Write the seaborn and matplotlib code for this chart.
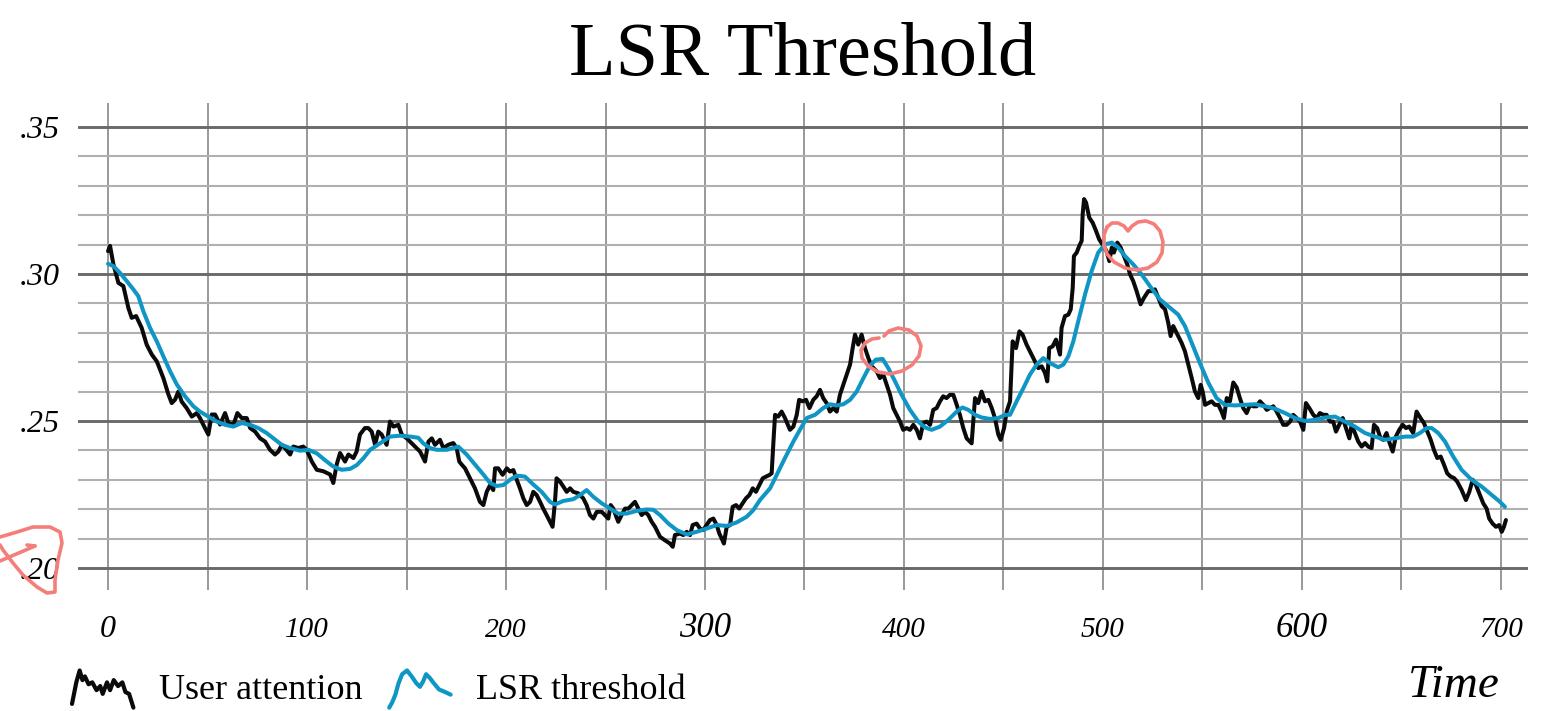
import numpy as np
import pandas as pd
import matplotlib
matplotlib.use("Agg")
import matplotlib.pyplot as plt
import seaborn as sns
from matplotlib.lines import Line2D
from matplotlib.legend_handler import HandlerBase

# ---------------------------------------------------------------- data
attention_t = [0, 1.0, 2.7, 5.2, 7.7, 10.2, 11.9, 14.1, 16.9, 19.4, 22.0, 24.5, 27.8, 30.3, 32.0,
               33.7, 35.3, 37.0, 39.5, 42.1, 44.6, 46.2, 48.7, 50.4, 52.1, 53.8, 56.3, 58.8, 60.5,
               63.0, 65.0, 67.2, 69.7, 71.4, 73.9, 76.4, 78.9, 81.4, 83.9, 85.6, 87.3, 88.9, 91.5,
               93.1, 95.6, 98.1, 99.8, 102.4, 104.9, 108.2, 111.6, 113.2, 114.9, 116.6, 119.1,
               120.8, 123.3, 124.9, 126.6, 129.1, 130.8, 132.5, 134.2, 135.8, 137.5, 140.0, 141.7,
               143.4, 145.9, 147.6, 150.1, 153.4, 156.8, 159.3, 161.0, 162.7, 164.3, 166.8, 168.5,
               171.0, 173.5, 175.2, 176.5, 177.7, 179.4, 181.9, 184.4, 186.9, 188.6, 190.3, 192.0,
               193.6, 194.5, 196.1, 198.3, 200.4, 202.0, 203.7, 205.4, 207.0, 208.7, 210.4, 212.1,
               213.7, 215.4, 217.1, 218.7, 220.4, 222.1, 223.4, 224.6, 225.4, 227.1, 228.8, 230.5,
               232.2, 233.8, 236.3, 238.8, 240.5, 242.2, 243.9, 245.6, 248.1, 249.7, 251.4, 252.6,
               253.9, 256.4, 258.1, 259.8, 261.5, 263.2, 264.8, 266.5, 268.2, 269.8, 271.5, 273.2,
               274.9, 277.4, 279.9, 282.4, 283.8, 284.9, 287.4, 289.1, 290.8, 292.5, 293.8, 295.8,
               297.5, 299.1, 300.8, 302.5, 304.2, 305.9, 307.2, 308.4, 309.5, 310.9, 312.6, 313.9,
               315.6, 317.2, 318.9, 320.6, 322.3, 324.0, 325.6, 327.3, 329.0, 330.7, 332.3, 333.5,
               334.3, 335.2, 336.8, 338.5, 340.2, 342.7, 344.4, 346.1, 347.3, 349.1, 350.8, 352.5,
               354.4, 356.1, 357.8, 359.4, 361.1, 362.8, 364.5, 366.2, 367.8, 369.5, 371.2, 372.9,
               374.2, 375.4, 377.0, 378.7, 380.4, 382.1, 383.8, 386.3, 387.9, 389.6, 391.3, 393.0,
               394.6, 396.3, 398.0, 399.6, 401.3, 403.0, 404.7, 406.4, 408.0, 409.7, 411.4, 413.1,
               414.7, 416.4, 418.1, 419.7, 421.4, 423.1, 424.8, 426.5, 428.1, 429.8, 431.5, 434.0,
               434.8, 435.7, 437.3, 439.0, 440.7, 442.4, 444.1, 445.7, 447.4, 448.6, 450.3, 451.6,
               453.3, 454.6, 456.3, 458.0, 459.6, 461.6, 463.3, 465.8, 467.5, 469.2, 470.9, 472.0,
               473.0, 474.7, 476.4, 477.5, 478.4, 479.2, 480.9, 482.6, 483.8, 484.8, 485.4, 486.8,
               488.1, 489.3, 489.8, 490.5, 491.5, 493.1, 494.8, 496.5, 498.1, 500.2, 501.8, 503.2,
               504.4, 505.5, 507.2, 508.9, 510.6, 512.2, 513.6, 515.2, 516.9, 518.9, 520.6, 522.8,
               525.3, 526.1, 527.8, 529.5, 531.2, 532.8, 534.0, 535.3, 537.0, 539.5, 541.2, 542.9,
               544.6, 546.2, 547.9, 549.1, 550.1, 551.3, 552.9, 554.6, 556.3, 558.0, 559.6, 560.8,
               562.2, 563.8, 565.5, 567.2, 568.8, 570.5, 572.2, 573.9, 575.5, 577.2, 578.9, 580.6,
               582.3, 583.9, 585.6, 587.3, 589.0, 590.6, 592.3, 594.0, 595.6, 597.3, 599.0, 600.7,
               602.0, 603.7, 605.7, 607.4, 609.0, 610.7, 612.4, 614.1, 615.7, 617.1, 618.7, 620.5,
               622.1, 623.8, 625.0, 626.6, 628.3, 630.0, 631.7, 633.3, 635.0, 636.2, 637.8, 639.5,
               640.8, 642.5, 643.8, 645.6, 647.2, 648.9, 650.6, 652.3, 653.9, 655.9, 657.6, 659.6,
               661.3, 663.0, 664.7, 666.3, 668.0, 669.7, 671.4, 673.0, 674.7, 676.4, 678.0, 680.2,
               682.4, 684.1, 685.8, 687.4, 689.4, 691.1, 692.8, 694.1, 695.8, 697.5, 699.1, 700.4,
               701.5, 702.5]
attention_v = [0.3078, 0.3096, 0.3033, 0.2970, 0.2959, 0.2885, 0.2851, 0.2857, 0.2817, 0.2760,
               0.2726, 0.2703, 0.2646, 0.2591, 0.2561, 0.2573, 0.2600, 0.2566, 0.2544, 0.2515,
               0.2527, 0.2510, 0.2476, 0.2454, 0.2522, 0.2522, 0.2488, 0.2527, 0.2493, 0.2487,
               0.2527, 0.2510, 0.2510, 0.2476, 0.2464, 0.2441, 0.2430, 0.2402, 0.2386, 0.2396,
               0.2419, 0.2408, 0.2386, 0.2413, 0.2408, 0.2413, 0.2402, 0.2362, 0.2334, 0.2329,
               0.2318, 0.2289, 0.2352, 0.2391, 0.2362, 0.2386, 0.2374, 0.2396, 0.2454, 0.2476,
               0.2476, 0.2464, 0.2419, 0.2464, 0.2454, 0.2419, 0.2498, 0.2481, 0.2487, 0.2454,
               0.2441, 0.2419, 0.2396, 0.2362, 0.2430, 0.2441, 0.2419, 0.2436, 0.2408, 0.2419,
               0.2425, 0.2408, 0.2362, 0.2352, 0.2339, 0.2305, 0.2271, 0.2225, 0.2214, 0.2259,
               0.2282, 0.2265, 0.2339, 0.2339, 0.2317, 0.2339, 0.2328, 0.2333, 0.2300, 0.2271,
               0.2237, 0.2214, 0.2225, 0.2259, 0.2248, 0.2225, 0.2202, 0.2180, 0.2157, 0.2140,
               0.2225, 0.2305, 0.2294, 0.2277, 0.2259, 0.2271, 0.2259, 0.2254, 0.2237, 0.2214,
               0.2180, 0.2168, 0.2191, 0.2191, 0.2180, 0.2168, 0.2214, 0.2202, 0.2157, 0.2180,
               0.2202, 0.2202, 0.2214, 0.2225, 0.2202, 0.2180, 0.2191, 0.2180, 0.2157, 0.2140,
               0.2106, 0.2094, 0.2083, 0.2072, 0.2112, 0.2117, 0.2112, 0.2123, 0.2112, 0.2146,
               0.2151, 0.2134, 0.2129, 0.2146, 0.2163, 0.2168, 0.2146, 0.2117, 0.2100, 0.2083,
               0.2140, 0.2146, 0.2208, 0.2214, 0.2202, 0.2220, 0.2237, 0.2248, 0.2271, 0.2259,
               0.2282, 0.2305, 0.2311, 0.2316, 0.2322, 0.2419, 0.2521, 0.2515, 0.2532, 0.2510,
               0.2470, 0.2481, 0.2521, 0.2572, 0.2567, 0.2572, 0.2544, 0.2572, 0.2584, 0.2606,
               0.2578, 0.2561, 0.2532, 0.2544, 0.2532, 0.2589, 0.2623, 0.2658, 0.2692, 0.2748,
               0.2794, 0.2760, 0.2794, 0.2748, 0.2714, 0.2686, 0.2669, 0.2646, 0.2658, 0.2623,
               0.2589, 0.2544, 0.2521, 0.2498, 0.2470, 0.2476, 0.2470, 0.2487, 0.2470, 0.2441,
               0.2493, 0.2498, 0.2487, 0.2538, 0.2544, 0.2567, 0.2584, 0.2578, 0.2589, 0.2589,
               0.2555, 0.2521, 0.2476, 0.2441, 0.2424, 0.2498, 0.2578, 0.2561, 0.2600, 0.2567,
               0.2572, 0.2544, 0.2510, 0.2454, 0.2436, 0.2476, 0.2532, 0.2567, 0.2771, 0.2748,
               0.2805, 0.2794, 0.2760, 0.2737, 0.2703, 0.2680, 0.2686, 0.2663, 0.2635, 0.2748,
               0.2754, 0.2777, 0.2748, 0.2726, 0.2817, 0.2857, 0.2862, 0.2880, 0.2953, 0.3061,
               0.3073, 0.3096, 0.3113, 0.3204, 0.3255, 0.3243, 0.3192, 0.3175, 0.3147, 0.3118,
               0.3096, 0.3078, 0.3044, 0.3090, 0.3073, 0.3107, 0.3090, 0.3061, 0.3033, 0.2999,
               0.2976, 0.2942, 0.2897, 0.2919, 0.2942, 0.2942, 0.2948, 0.2919, 0.2891, 0.2880,
               0.2834, 0.2789, 0.2823, 0.2800, 0.2766, 0.2737, 0.2692, 0.2646, 0.2601, 0.2578,
               0.2623, 0.2600, 0.2555, 0.2561, 0.2567, 0.2555, 0.2555, 0.2532, 0.2510, 0.2578,
               0.2567, 0.2631, 0.2614, 0.2578, 0.2544, 0.2527, 0.2555, 0.2550, 0.2550, 0.2567,
               0.2555, 0.2538, 0.2544, 0.2550, 0.2532, 0.2510, 0.2487, 0.2487, 0.2498, 0.2521,
               0.2510, 0.2498, 0.2470, 0.2561, 0.2544, 0.2521, 0.2510, 0.2527, 0.2521, 0.2521,
               0.2498, 0.2498, 0.2464, 0.2487, 0.2510, 0.2476, 0.2441, 0.2487, 0.2459, 0.2430,
               0.2413, 0.2425, 0.2413, 0.2408, 0.2487, 0.2476, 0.2441, 0.2436, 0.2459, 0.2430,
               0.2396, 0.2447, 0.2470, 0.2487, 0.2476, 0.2481, 0.2459, 0.2532, 0.2510, 0.2493,
               0.2464, 0.2436, 0.2402, 0.2374, 0.2379, 0.2351, 0.2322, 0.2311, 0.2306, 0.2294,
               0.2266, 0.2231, 0.2259, 0.2300, 0.2283, 0.2249, 0.2220, 0.2202, 0.2168, 0.2151,
               0.2140, 0.2146, 0.2123, 0.2140, 0.2163]

threshold_t = [0, 2.7, 6.0, 9.4, 12.7, 15.2, 17.7, 21.1, 24.5, 27.8, 31.2, 34.5, 38.7, 42.9, 46.2,
               50.4, 54.6, 58.8, 63.0, 67.2, 71.4, 75.5, 79.7, 83.1, 87.3, 91.5, 96.5, 100.7, 104.9,
               109.0, 113.2, 117.4, 121.6, 125.0, 128.3, 131.7, 136.7, 141.7, 146.7, 151.8, 155.9,
               158.4, 161.8, 165.2, 170.2, 173.5, 176.0, 180.2, 184.4, 188.6, 192.0, 195.3, 198.6,
               202.0, 205.4, 209.5, 213.7, 217.9, 222.1, 224.6, 228.8, 233.8, 237.2, 240.5, 243.9,
               248.1, 252.3, 256.4, 260.6, 265.6, 270.7, 274.0, 277.4, 281.6, 285.8, 290.8, 295.8,
               300.8, 305.9, 310.9, 315.9, 320.9, 324.3, 327.6, 332.7, 335.2, 339.3, 344.4, 347.7,
               351.1, 355.3, 359.4, 362.8, 366.2, 369.5, 372.9, 376.2, 379.6, 382.9, 385.9, 389.3,
               392.1, 395.5, 398.8, 403.0, 407.2, 410.6, 413.9, 418.1, 422.3, 426.5, 429.4, 432.3,
               435.7, 439.0, 443.2, 447.4, 450.8, 453.3, 456.6, 460.0, 463.3, 466.7, 470.0, 473.4,
               477.5, 480.1, 482.6, 485.1, 487.6, 491.0, 494.3, 497.6, 501.0, 504.4, 507.7, 511.1,
               515.2, 519.4, 523.6, 528.6, 533.7, 537.8, 541.2, 544.6, 548.7, 552.9, 557.1, 561.3,
               566.3, 571.4, 576.4, 581.4, 586.4, 591.5, 596.5, 601.5, 606.5, 611.6, 616.6, 621.6,
               626.6, 631.7, 636.7, 641.7, 646.7, 651.8, 655.9, 659.3, 662.7, 665.2, 668.5, 671.9,
               676.0, 680.2, 685.3, 690.3, 695.3, 699.5, 702.0]
threshold_v = [0.3035, 0.3027, 0.3004, 0.2976, 0.2948, 0.2925, 0.2874, 0.2817, 0.2771, 0.2720,
               0.2669, 0.2625, 0.2584, 0.2550, 0.2532, 0.2515, 0.2498, 0.2487, 0.2481, 0.2493,
               0.2487, 0.2476, 0.2459, 0.2441, 0.2419, 0.2408, 0.2399, 0.2402, 0.2390, 0.2367,
               0.2345, 0.2334, 0.2337, 0.2350, 0.2373, 0.2402, 0.2424, 0.2447, 0.2450, 0.2447,
               0.2443, 0.2424, 0.2408, 0.2402, 0.2402, 0.2408, 0.2413, 0.2386, 0.2352, 0.2318,
               0.2289, 0.2279, 0.2282, 0.2300, 0.2314, 0.2311, 0.2284, 0.2259, 0.2225, 0.2216,
               0.2228, 0.2234, 0.2248, 0.2265, 0.2242, 0.2220, 0.2202, 0.2185, 0.2185, 0.2194,
               0.2199, 0.2198, 0.2180, 0.2151, 0.2129, 0.2114, 0.2123, 0.2134, 0.2146, 0.2143,
               0.2155, 0.2174, 0.2197, 0.2231, 0.2271, 0.2305, 0.2362, 0.2430, 0.2470, 0.2510,
               0.2521, 0.2544, 0.2557, 0.2553, 0.2557, 0.2572, 0.2600, 0.2646, 0.2688, 0.2709,
               0.2711, 0.2680, 0.2635, 0.2589, 0.2538, 0.2498, 0.2478, 0.2470, 0.2481, 0.2504,
               0.2532, 0.2546, 0.2538, 0.2521, 0.2512, 0.2507, 0.2510, 0.2521, 0.2521, 0.2567,
               0.2612, 0.2658, 0.2692, 0.2714, 0.2697, 0.2683, 0.2692, 0.2720, 0.2771, 0.2840,
               0.2931, 0.3010, 0.3073, 0.3101, 0.3107, 0.3090, 0.3061, 0.3033, 0.2999, 0.2959,
               0.2914, 0.2885, 0.2862, 0.2823, 0.2766, 0.2697, 0.2631, 0.2578, 0.2555, 0.2553,
               0.2555, 0.2557, 0.2550, 0.2542, 0.2527, 0.2510, 0.2500, 0.2504, 0.2512, 0.2515,
               0.2498, 0.2481, 0.2459, 0.2447, 0.2436, 0.2441, 0.2447, 0.2447, 0.2459, 0.2476,
               0.2476, 0.2459, 0.2430, 0.2379, 0.2334, 0.2300, 0.2277, 0.2249, 0.2225, 0.2208]

series_names = ["User attention", "LSR threshold"]
x_ticks = [0, 100, 200, 300, 400, 500, 600, 700]
x_tick_labels = ["0", "100", "200", "300", "400", "500", "600", "700"]
x_minor_ticks = [50, 150, 250, 350, 450, 550, 650]
y_ticks = [0.20, 0.25, 0.30, 0.35]
y_tick_labels = [".20", ".25", ".30", ".35"]
title_text = "LSR Threshold"
x_label = "Time"

# ---------------------------------------------------------------- style
W, H, DPI = 1554, 711, 100
SERIF = ["Liberation Serif", "DejaVu Serif"]
INK = "#000000"
BLACK = "#0a0a0a"
BLUE = "#0f96c4"
RED = "#f47e7a"

sns.set_theme(style="white")
plt.rcParams["font.family"] = SERIF
plt.rcParams["text.color"] = INK
plt.rcParams["axes.labelcolor"] = INK
plt.rcParams["xtick.color"] = INK
plt.rcParams["ytick.color"] = INK

fig = plt.figure(figsize=(W / DPI, H / DPI), dpi=DPI)
ax = fig.add_axes([78 / W, 1 - 590 / H, (1528 - 78) / W, (590 - 103) / H])

df = pd.concat([
    pd.DataFrame({"t": attention_t, "value": attention_v, "series": series_names[0]}),
    pd.DataFrame({"t": threshold_t, "value": threshold_v, "series": series_names[1]}),
], ignore_index=True)

palette = {series_names[0]: BLACK, series_names[1]: BLUE}
sns.lineplot(data=df, x="t", y="value", hue="series", hue_order=series_names,
             palette=palette, estimator=None, sort=False, linewidth=2.9,
             legend=False, ax=ax)
for ln in ax.lines:
    ln.set_solid_joinstyle("round")

# grid: 50-unit verticals, 0.01 horizontals with darker 0.05 lines
ax.set_xticks(x_ticks)
ax.set_xticks(x_minor_ticks, minor=True)
ax.set_yticks(y_ticks)
ax.set_yticks([round(0.20 + 0.01 * i, 2) for i in range(16) if i % 5], minor=True)
ax.set_xlim(-15.1, 713.6)
ax.set_ylim(0.1925, 0.3582)

ax.set_axisbelow(True)
ax.grid(which="both", axis="x", color="#878787", linewidth=1.2)
ax.grid(which="major", axis="y", color="#6a6a6a", linewidth=2.1)
ax.grid(which="minor", axis="y", color="#b0b0b0", linewidth=1.5)
for s in ax.spines.values():
    s.set_visible(False)
ax.tick_params(which="both", length=0)
ax.tick_params(axis="x", pad=34)
ax.tick_params(axis="y", pad=13)

ax.set_xticklabels(x_tick_labels, style="italic")
x_sizes = [23, 21, 20, 25, 21, 21, 25, 21]
for lab, size in zip(ax.get_xticklabels(), x_sizes):
    lab.set_fontsize(size)
    lab.set_verticalalignment("baseline")
ax.set_yticklabels(y_tick_labels, style="italic", fontsize=23)

ax.set_xlabel(x_label, style="italic", fontsize=34, ha="right", va="baseline")
ax.xaxis.set_label_coords((1500 - 78) / 1450, (590 - 697) / 487)
ax.set_ylabel("")

fig.text(803 / W, 1 - 75 / H, title_text, ha="center", va="baseline", fontsize=55)


# ---------------------------------------------------------------- legend
class Squiggle(HandlerBase):
    def __init__(self, shape):
        super().__init__()
        self.shape = shape

    def create_artists(self, legend, orig_handle, xdescent, ydescent, width, height,
                       fontsize, trans):
        xs = [-xdescent + px * width for px, _ in self.shape]
        ys = [-ydescent - 0.15 * height + py * 1.15 * height for _, py in self.shape]
        line = Line2D(xs, ys, color=orig_handle.get_color(),
                      linewidth=orig_handle.get_linewidth(),
                      solid_joinstyle="round", solid_capstyle="round")
        line.set_transform(trans)
        return [line]


noisy_icon = [(0, 0.1), (0.07, 0.68), (0.125, 1.0), (0.17, 0.74), (0.21, 0.84), (0.27, 0.63),
              (0.33, 0.68), (0.4, 0.47), (0.46, 0.58), (0.5, 0.37), (0.57, 0.68), (0.62, 0.47),
              (0.68, 0.74), (0.75, 0.58), (0.82, 0.68), (0.87, 0.42), (0.93, 0.37), (1.0, 0.0)]
smooth_icon = [(0, 0), (0.05, 0.15), (0.1, 0.35), (0.15, 0.65), (0.21, 0.9), (0.29, 1.0),
               (0.37, 0.83), (0.44, 0.66), (0.5, 0.56), (0.55, 0.7), (0.6, 0.9), (0.66, 0.8),
               (0.71, 0.69), (0.81, 0.49), (0.91, 0.42), (1.0, 0.35)]

h_att = Line2D([], [], color=BLACK, linewidth=3.0)
h_thr = Line2D([], [], color=BLUE, linewidth=3.0)
fig.legend([h_att, h_thr], series_names, loc="lower left",
           bbox_to_anchor=(72 / W, 4 / H), frameon=False, ncol=2, fontsize=26,
           handlelength=1.7, handleheight=1.0, handletextpad=0.7, columnspacing=0.75,
           borderpad=0, borderaxespad=0,
           handler_map={h_att: Squiggle(noisy_icon), h_thr: Squiggle(smooth_icon)})


# ---------------------------------------------------------------- pen marks
def pen(points, closed=False):
    pts = list(points) + ([points[0]] if closed else [])
    xs = [p[0] / W for p in pts]
    ys = [1 - p[1] / H for p in pts]
    fig.add_artist(Line2D(xs, ys, transform=fig.transFigure, color=RED, linewidth=2.6,
                          solid_joinstyle="round", solid_capstyle="round", zorder=10))


pen([(879, 338), (872, 339), (865, 343), (861, 350), (862, 358), (868, 366), (878, 372),
     (890, 374), (902, 371), (912, 365), (919, 356), (921, 346), (917, 336), (909, 330),
     (898, 328), (889, 331), (884, 336)])
pen([(1107, 227), (1112, 223), (1118, 223), (1124, 226), (1128, 231), (1132, 226),
     (1138, 222), (1146, 221), (1154, 224), (1160, 231), (1163, 242), (1162, 253),
     (1157, 262), (1148, 268), (1137, 270), (1125, 268), (1114, 262), (1107, 254),
     (1104, 245), (1104, 235)], closed=True)
pen([(0, 537), (17, 532), (33, 527), (50, 527), (60, 532), (62, 543), (58, 560), (55, 580),
     (55, 592), (47, 593), (37, 587), (23, 575), (13, 563), (3, 550), (0, 545)])
pen([(0, 561), (35, 546)])
pen([(27, 545), (35, 546)])

fig.savefig("out.png", dpi=DPI)
